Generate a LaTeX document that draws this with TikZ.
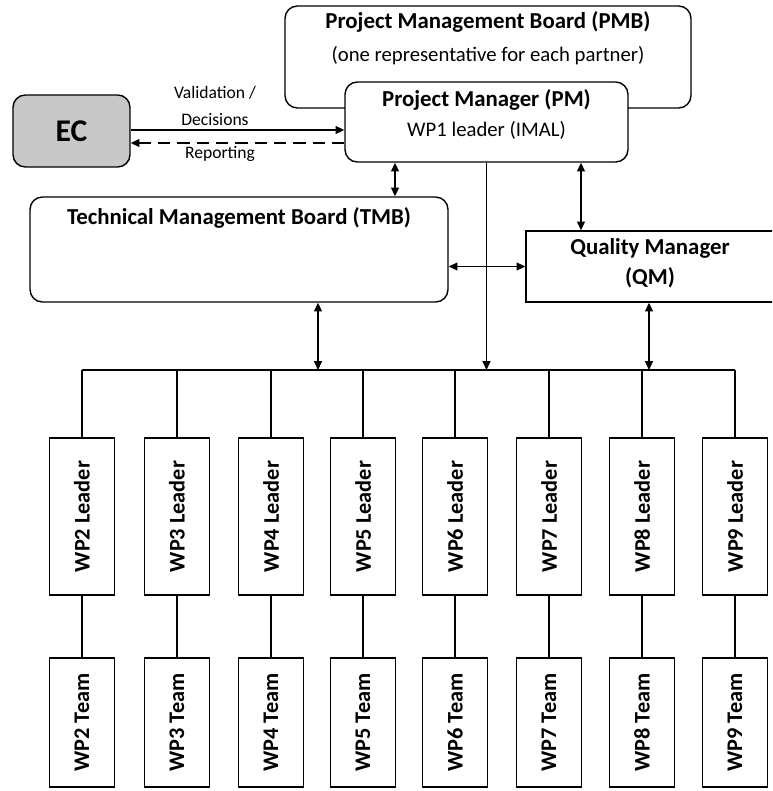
\documentclass[tikz,border=0pt]{standalone}
\usepackage{graphicx}
\usepackage{fontspec}
\setmainfont{Carlito}
\usetikzlibrary{arrows.meta,calc}
\definecolor{ecgray}{RGB}{200,200,200}

\begin{document}
\begin{tikzpicture}[x=0.02cm, y=-0.02cm, line width=0.8pt,
  tip/.tip={Triangle[length=5pt,width=4.5pt]},
  rbox/.style={draw, rounded corners=7pt, inner sep=0pt, fill=white},
  sbox/.style={draw, inner sep=0pt, fill=white},
  wpbox/.style={draw, inner sep=0pt, minimum width=1.3cm},
  title/.style={font=\bfseries\fontsize{13}{15}\selectfont},
  wptext/.style={font=\bfseries\fontsize{12.7}{15}\selectfont},
  sub/.style={font=\fontsize{11.8}{14}\selectfont},
  small/.style={font=\fontsize{10}{12}\selectfont}]

\useasboundingbox (0,0) rectangle (772,791);
\clip (0,0) rectangle (772,791);

% boards and managers
\node[rbox, minimum width=8.12cm, minimum height=2.04cm] (pmb) at (488,57) {};
\node[title] at (488,22) {Project Management Board (PMB)};
\node[sub] at (488,56) {(one representative for each partner)};

\node[rbox, minimum width=5.66cm, minimum height=1.6cm] (pm) at (486.5,122) {};
\node[title] at (486.5,100) {Project Manager (PM)};
\node[sub] at (486.5,130) {WP1 leader (IMAL)};

\node[rbox, fill=ecgray, minimum width=2.34cm, minimum height=1.44cm,
  font=\bfseries\fontsize{18}{21}\selectfont] (ec) at (71.5,131) {EC};

\node[rbox, minimum width=8.36cm, minimum height=2.1cm] (tmb) at (239,249.5) {};
\node[title] at (239,218) {Technical Management Board (TMB)};

\node[sbox, minimum width=5.28cm, minimum height=1.42cm] (qm) at (658,266.5) {};
\node[title, align=center] at (650,263) {Quality Manager\\[2pt](QM)};

% EC links
\draw[-tip] (ec.east |- 0,130) -- (pm.west |- 0,130);
\draw[dashed, dash pattern=on 7pt off 4pt, -tip] (pm.west |- 0,143) -- (ec.east |- 0,143);
\node[small] at (215,93) {Validation /};
\node[small] at (215,120) {Decisions};
\node[small] at (220,154) {Reporting};

% bus
\coordinate (bl) at (82,370);
\coordinate (br) at (735,370);
\draw (bl) -- (br);

\draw[tip-tip] (pm.south -| 395,0) -- (tmb.north -| 395,0);
\draw[-tip] (pm.south) -- (pm.south |- bl);
\draw[tip-tip] (pm.south -| 581,0) -- (qm.north -| 581,0);
\draw[tip-tip] (tmb.east |- qm.west) -- (qm.west);
\draw[tip-tip] (tmb.south -| 318,0) -- (bl -| 318,0);
\draw[tip-tip] (qm.south -| 649,0) -- (bl -| 649,0);

% work packages
\foreach \n/\x in {2/82, 3/177, 4/271, 5/363, 6/455, 7/549, 8/642, 9/735} {
  \node[wpbox, minimum height=3.14cm, wptext] (l\n) at (\x,516.5) {\rotatebox{90}{WP\n{} Leader}};
  \node[wpbox, minimum height=2.58cm, wptext] (t\n) at (\x,722.5) {\rotatebox{90}{WP\n{} Team}};
  \draw (l\n.north |- bl) -- (l\n.north);
  \draw (l\n.south) -- (t\n.north);
}

\end{tikzpicture}
\end{document}
